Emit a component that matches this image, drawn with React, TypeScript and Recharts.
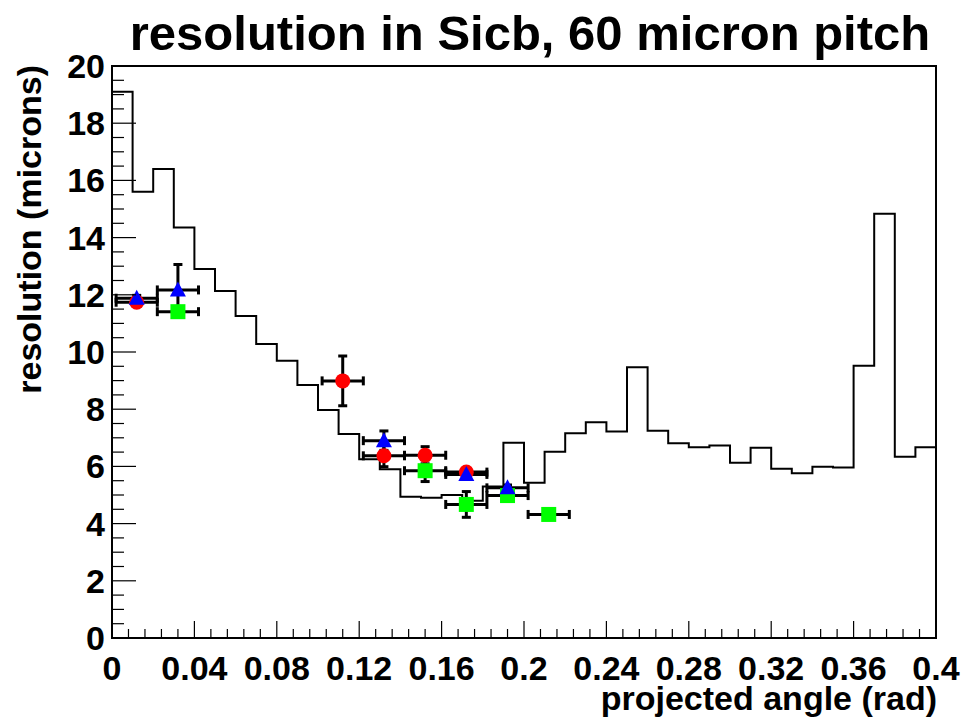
import {
  ComposedChart,
  ErrorBar,
  Line,
  ReferenceArea,
  Scatter,
  XAxis,
  YAxis,
} from 'recharts';

// histogram: 40 bins of 0.01 rad
const BIN_EDGES = [
  0, 0.01, 0.02, 0.03, 0.04, 0.05, 0.06, 0.07, 0.08, 0.09, 0.1, 0.11, 0.12, 0.13, 0.14, 0.15,
  0.16, 0.17, 0.18, 0.19, 0.2, 0.21, 0.22, 0.23, 0.24, 0.25, 0.26, 0.27, 0.28, 0.29, 0.3, 0.31,
  0.32, 0.33, 0.34, 0.35, 0.36, 0.37, 0.38, 0.39, 0.4,
];
const HIST_VALUES = [
  19.1, 15.6, 16.4, 14.35, 12.9, 12.13, 11.26, 10.28, 9.69, 8.85, 7.97, 7.13, 6.25, 5.9, 4.94,
  4.9, 5.0, 4.8, 5.3, 6.83, 5.43, 6.51, 7.16, 7.54, 7.22, 9.47, 7.25, 6.81, 6.67, 6.73, 6.13,
  6.65, 5.92, 5.76, 5.99, 5.96, 9.52, 14.83, 6.34, 6.67,
];

// red circles
const RED_X = [0.012, 0.112, 0.132, 0.152, 0.172];
const RED_Y = [11.74, 8.99, 6.37, 6.39, 5.8];
const RED_YERR = [0.1, 0.87, 0.38, 0.3, 0.1];

// green squares
const GREEN_X = [0.032, 0.152, 0.172, 0.192, 0.212];
const GREEN_Y = [11.41, 5.85, 4.67, 4.98, 4.32];
const GREEN_YERR = [0.15, 0.38, 0.45, 0.1, 0.05];

// blue triangles
const BLUE_X = [0.012, 0.032, 0.132, 0.172, 0.192];
const BLUE_Y = [11.88, 12.17, 6.9, 5.72, 5.25];
const BLUE_YERR = [0.1, 0.89, 0.34, 0.1, 0.1];

const X_ERR = 0.01;

const X_MAJOR = [0, 0.04, 0.08, 0.12, 0.16, 0.2, 0.24, 0.28, 0.32, 0.36, 0.4];
const X_LABELS = ['0', '0.04', '0.08', '0.12', '0.16', '0.2', '0.24', '0.28', '0.32', '0.36', '0.4'];
const Y_MAJOR = [0, 2, 4, 6, 8, 10, 12, 14, 16, 18, 20];
const Y_LABELS = ['0', '2', '4', '6', '8', '10', '12', '14', '16', '18', '20'];

const FONT = "'Liberation Sans', Arial, Helvetica, sans-serif";

const histData = BIN_EDGES.map((x, i) => ({ x, y: HIST_VALUES[Math.min(i, HIST_VALUES.length - 1)] }));

const toPoints = (xs: number[], ys: number[], errs: number[]) =>
  xs.map((x, i) => ({ x, y: ys[i], ex: X_ERR, ey: errs[i] }));

const redData = toPoints(RED_X, RED_Y, RED_YERR);
const greenData = toPoints(GREEN_X, GREEN_Y, GREEN_YERR);
const blueData = toPoints(BLUE_X, BLUE_Y, BLUE_YERR);

// minor ticks: 5 per x major, 4 per y major
const xTicks: number[] = [];
X_MAJOR.forEach((v, i) => {
  if (i === 0) return xTicks.push(v);
  const prev = X_MAJOR[i - 1];
  for (let k = 1; k <= 5; k++) xTicks.push(+(prev + ((v - prev) * k) / 5).toFixed(4));
});
const yTicks: number[] = [];
Y_MAJOR.forEach((v, i) => {
  if (i === 0) return yTicks.push(v);
  const prev = Y_MAJOR[i - 1];
  for (let k = 1; k <= 4; k++) yTicks.push(+(prev + ((v - prev) * k) / 4).toFixed(4));
});

const majorIndex = (list: number[], v: number) => list.findIndex((m) => Math.abs(m - v) < 1e-6);

function XTick(props: any) {
  const { x, y, payload } = props;
  const idx = majorIndex(X_MAJOR, payload.value);
  const major = idx >= 0;
  return (
    <g>
      <line x1={x} x2={x} y1={y} y2={y - (major ? 17 : 9)} stroke="#000" strokeWidth={1.2} />
      {major && (
        <text x={x} y={y + 42} textAnchor="middle" fontFamily={FONT} fontWeight="bold" fontSize={34} fill="#000">
          {X_LABELS[idx]}
        </text>
      )}
    </g>
  );
}

function YTick(props: any) {
  const { x, y, payload } = props;
  const idx = majorIndex(Y_MAJOR, payload.value);
  const major = idx >= 0;
  return (
    <g>
      <line x1={x} x2={x + (major ? 24 : 12)} y1={y} y2={y} stroke="#000" strokeWidth={1.2} />
      {major && (
        <text x={x - 7} y={y + 12} textAnchor="end" fontFamily={FONT} fontWeight="bold" fontSize={34} fill="#000">
          {Y_LABELS[idx]}
        </text>
      )}
    </g>
  );
}

const circle = (p: any) => <circle cx={p.cx} cy={p.cy} r={7.5} fill="#ff0000" />;
const square = (p: any) => <rect x={p.cx - 7.5} y={p.cy - 7.5} width={15} height={15} fill="#00ff00" />;
const triangle = (p: any) => (
  <polygon
    points={`${p.cx},${p.cy - 8.5} ${p.cx - 8},${p.cy + 6.5} ${p.cx + 8},${p.cy + 6.5}`}
    fill="#0000ff"
  />
);

const errProps = { width: 4.5, stroke: '#000', strokeWidth: 3, isAnimationActive: false };

export default function App() {
  return (
    <div style={{ position: 'absolute', left: 0, top: 0, width: 963, height: 719, background: '#fff' }}>
      <ComposedChart width={963} height={719} margin={{ top: 66, right: 27, bottom: 0, left: 0 }}>
        <XAxis
          type="number"
          dataKey="x"
          domain={[0, 0.4]}
          ticks={xTicks}
          interval={0}
          height={81}
          tickSize={0}
          tickMargin={0}
          tickLine={false}
          tick={<XTick />}
          axisLine={{ stroke: '#000', strokeWidth: 2 }}
          allowDataOverflow
        />
        <YAxis
          type="number"
          domain={[0, 20]}
          ticks={yTicks}
          interval={0}
          width={112}
          tickSize={0}
          tickMargin={0}
          tickLine={false}
          tick={<YTick />}
          axisLine={{ stroke: '#000', strokeWidth: 2 }}
          allowDataOverflow
        />
        <ReferenceArea x1={0} x2={0.4} y1={0} y2={20} fill="none" stroke="#000" strokeWidth={2} ifOverflow="visible" />
        <Line
          data={histData}
          dataKey="y"
          type="stepAfter"
          stroke="#000"
          strokeWidth={2}
          dot={false}
          activeDot={false}
          isAnimationActive={false}
        />
        <Scatter data={redData} dataKey="y" shape={circle} isAnimationActive={false}>
          <ErrorBar dataKey="ex" direction="x" {...errProps} />
          <ErrorBar dataKey="ey" direction="y" {...errProps} />
        </Scatter>
        <Scatter data={greenData} dataKey="y" shape={square} isAnimationActive={false}>
          <ErrorBar dataKey="ex" direction="x" {...errProps} />
          <ErrorBar dataKey="ey" direction="y" {...errProps} />
        </Scatter>
        <Scatter data={blueData} dataKey="y" shape={triangle} isAnimationActive={false}>
          <ErrorBar dataKey="ex" direction="x" {...errProps} />
          <ErrorBar dataKey="ey" direction="y" {...errProps} />
        </Scatter>
      </ComposedChart>
      <svg
        width={963}
        height={719}
        style={{ position: 'absolute', left: 0, top: 0, pointerEvents: 'none' }}
        fontFamily={FONT}
        fontWeight="bold"
      >
        <text x={530} y={50} textAnchor="middle" fontSize={49} fill="#000">
          resolution in Sicb, 60 micron pitch
        </text>
        <text x={937} y={710} textAnchor="end" fontSize={34} fill="#000">
          projected angle (rad)
        </text>
        <text x={41} y={65} textAnchor="end" fontSize={34} fill="#000" transform="rotate(-90, 41, 65)">
          resolution (microns)
        </text>
      </svg>
    </div>
  );
}
